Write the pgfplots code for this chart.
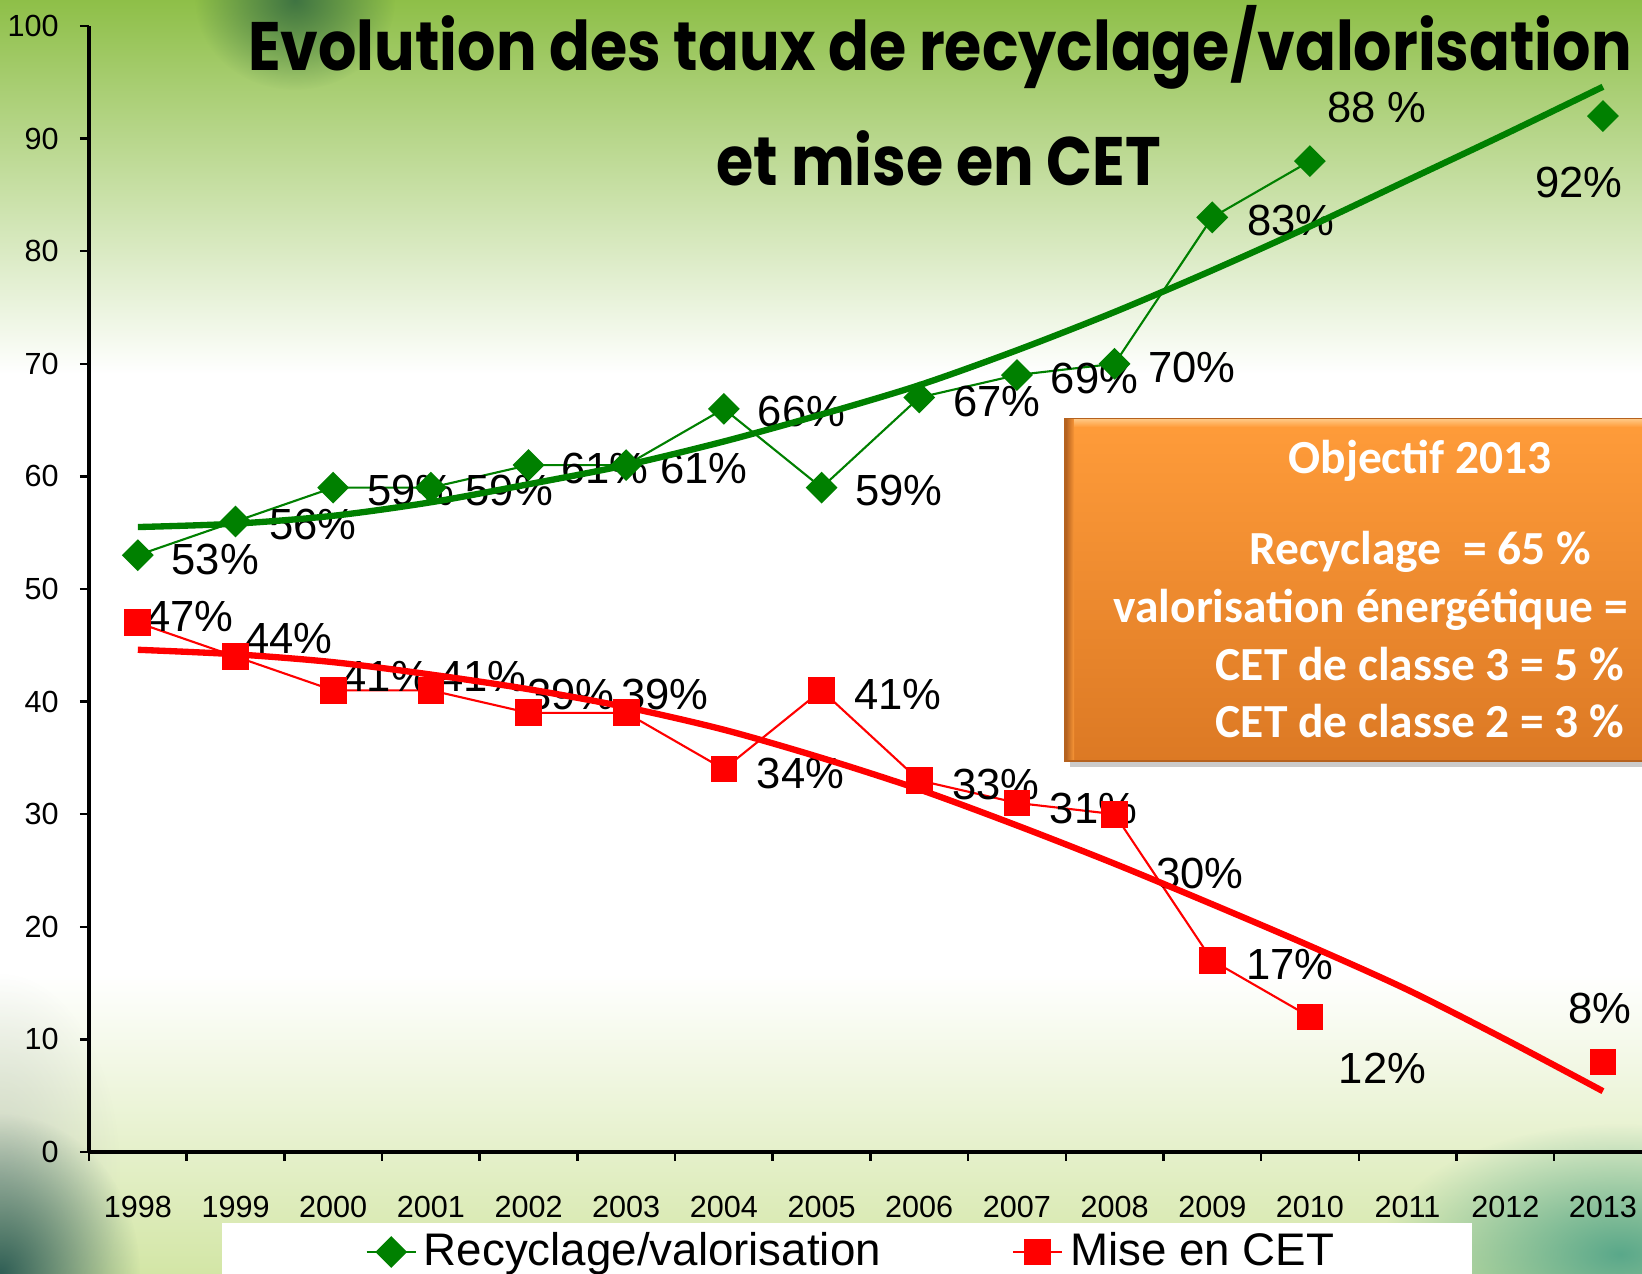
\documentclass[border=0pt]{standalone}
\usepackage{fontspec}
\setmainfont{Liberation Sans}
\newfontfamily\titlefont[FakeStretch=0.88]{Poppins}
\newfontfamily\boxfont{Carlito}
\usepackage{pgfplots}
\pgfplotsset{compat=1.18}
\usetikzlibrary{fadings}
\definecolor{sgreen}{HTML}{008000}
\definecolor{sred}{HTML}{FF0000}
\definecolor{topg}{HTML}{8EBF48}
\definecolor{midg}{HTML}{D6E9B6}
\definecolor{botg}{HTML}{D3E6A6}
\definecolor{teald}{HTML}{2F5E55}
\definecolor{tealr}{HTML}{5AA88A}
\definecolor{darkg}{HTML}{3F7442}
\definecolor{orT}{HTML}{FF9C3A}
\definecolor{orB}{HTML}{DC7924}
\definecolor{orD}{HTML}{B5621F}
\definecolor{orL}{HTML}{FFC27A}
\tikzfading[name=fuzzy, inner color=transparent!0, outer color=transparent!100]
\newcommand{\lab}{\fontsize{12.4}{14}\selectfont}
\begin{document}
\begin{tikzpicture}[x=1cm,y=1cm]
\useasboundingbox (0,0) rectangle (16.42,12.74);
\clip (0,0) rectangle (16.42,12.74);
% background
\fill[white] (0,0) rectangle (16.42,12.74);
\shade[top color=topg, middle color=midg, bottom color=white] (0,9.0) rectangle (16.42,12.74);
\shade[top color=white, bottom color=botg] (0,0) rectangle (16.42,3.0);
\fill[darkg, path fading=fuzzy] (2.95,12.74) ellipse (1.0 and 0.9);
\fill[teald!30!gray!50, opacity=0.5, path fading=fuzzy] (0.0,1.0) ellipse (1.2 and 2.0);
\fill[teald, path fading=fuzzy] (0.0,0.0) ellipse (1.4 and 1.6);
\fill[tealr, path fading=fuzzy] (16.2,0.2) ellipse (2.4 and 1.3);
% legend box
\fill[white] (2.22,-0.2) rectangle (14.72,0.51);
\begin{axis}[
  at={(0.89cm,1.22cm)}, anchor=south west,
  scale only axis, width=15.53cm, height=11.26cm,
  xmin=-0.5, xmax=15.4, ymin=0, ymax=100,
  axis lines=left, axis line style={-, line width=0.9pt, black},
  xtick={-0.5,0.5,...,14.5},
  xticklabels={1998,1999,2000,2001,2002,2003,2004,2005,2006,2007,2008,2009,2010,2011,2012,2013},
  xticklabel style={xshift=0.4885cm, yshift=-0.23cm},
  ytick={0,10,...,100},
  yticklabel style={xshift=-0.09cm},
  tick align=outside, major tick length=0.09cm,
  tick style={black, line width=0.7pt},
  tick label style={font=\fontsize{8.7}{10}\selectfont},
  /pgf/number format/assume math mode=true,
  clip=false,
  unbounded coords=jump,
  legend columns=2,
  legend style={at={(0.1777,-0.0888)}, anchor=west, draw=none, fill=none, inner sep=0pt,
    font=\fontsize{13}{15}\selectfont,
    /tikz/every even column/.append style={column sep=1.24cm}},
  legend image code/.code={\draw[mark repeat=2,mark phase=2] plot coordinates {(0cm,0cm)(0.245cm,0cm)(0.49cm,0cm)};},
]
\addplot[sgreen, line width=0.6pt, mark=square*, mark size=2.9pt, mark options={solid, fill=sgreen, rotate=45}]
  coordinates {(0,53)(1,56)(2,59)(3,59)(4,61)(5,61)(6,66)(7,59)(8,67)(9,69)(10,70)(11,83)(12,88)(13,nan)(15,92)};
\addlegendentry{Recyclage/valorisation}
\addplot[sred, line width=0.6pt, mark=square*, mark size=3.5pt, mark options={solid, fill=sred}]
  coordinates {(0,47)(1,44)(2,41)(3,41)(4,39)(5,39)(6,34)(7,41)(8,33)(9,31)(10,30)(11,17)(12,12)(13,nan)(15,8)};
\addlegendentry{Mise en CET}
% data labels
\begin{scope}[every node/.style={anchor=base west, inner sep=0pt, font=\lab}]
\node at (axis cs:0.34,51.3) {53\%};
\node at (axis cs:1.34,54.4) {56\%};
\node at (axis cs:2.34,57.4) {59\%};
\node at (axis cs:3.35,57.4) {59\%};
\node at (axis cs:4.33,59.4) {61\%};
\node at (axis cs:5.34,59.4) {61\%};
\node at (axis cs:6.34,64.4) {66\%};
\node at (axis cs:7.34,57.4) {59\%};
\node at (axis cs:8.34,65.3) {67\%};
\node at (axis cs:9.34,67.4) {69\%};
\node at (axis cs:10.34,68.3) {70\%};
\node at (axis cs:11.35,81.4) {83\%};
\node at (axis cs:12.17,91.4) {88 \%};
\node at (axis cs:14.30,84.8) {92\%};
\node at (axis cs:0.08,46.2) {47\%};
\node at (axis cs:1.09,44.3) {44\%};
\node at (axis cs:2.09,40.9) {41\%};
\node at (axis cs:3.08,40.9) {41\%};
\node at (axis cs:3.98,39.3) {39\%};
\node at (axis cs:4.94,39.3) {39\%};
\node at (axis cs:6.33,32.3) {34\%};
\node at (axis cs:7.33,39.3) {41\%};
\node at (axis cs:8.33,31.3) {33\%};
\node at (axis cs:9.33,29.2) {31\%};
\node at (axis cs:10.42,23.4) {30\%};
\node at (axis cs:11.34,15.3) {17\%};
\node at (axis cs:12.29,6.1) {12\%};
\node at (axis cs:14.64,11.4) {8\%};
\end{scope}
% trend lines
\addplot[sgreen, line width=1.8pt, smooth, forget plot]
  coordinates {(0,55.5)(1,55.8)(2,56.5)(3,57.7)(4,59.3)(5,61.0)(6,63.1)(7,65.5)(8,68.1)(9,71.2)(10,74.6)(11,78.3)(12,82.2)(13,86.3)(14,90.4)(15,94.6)};
\addplot[sred, line width=1.8pt, smooth, forget plot]
  coordinates {(0,44.6)(1,44.2)(2,43.5)(3,42.4)(4,41.1)(5,39.5)(6,37.5)(7,35.0)(8,32.2)(9,29.0)(10,25.6)(11,22.0)(12,18.3)(13,14.4)(14,10.0)(15,5.4)};
\end{axis}
% orange box
\fill[black!40, opacity=0.5] (10.70,5.07) rectangle (16.6,8.49);
\shade[top color=orT, bottom color=orB, draw=orD, line width=0.6pt] (10.65,5.13) rectangle (16.6,8.55);
\shade[left color=orD, right color=orT!80!orB] (10.66,5.14) rectangle (10.74,8.54);
\shade[top color=orL, bottom color=orT] (10.74,8.47) rectangle (16.6,8.54);
\begin{scope}[every node/.style={white, inner sep=0pt, font=\boxfont\bfseries\fontsize{13.5}{16}\selectfont}]
\node[anchor=base] at (14.20,8.00) {Objectif 2013};
\node[anchor=base] at (14.20,7.09) {Recyclage~~= 65 \%};
\node[anchor=base west] at (11.13,6.51) {valorisation énergétique =};
\node[anchor=base] at (14.20,5.93) {CET de classe 3 = 5 \%};
\node[anchor=base] at (14.20,5.36) {CET de classe 2 = 3 \%};
\end{scope}
% title
\node[anchor=base, inner sep=0pt, font=\titlefont\bfseries\fontsize{19.5}{23}\selectfont] at (9.40,12.03) {Evolution des taux de recyclage/valorisation};
\node[anchor=base, inner sep=0pt, font=\titlefont\bfseries\fontsize{19.5}{23}\selectfont] at (9.39,10.88) {et mise en CET};
\end{tikzpicture}
\end{document}
